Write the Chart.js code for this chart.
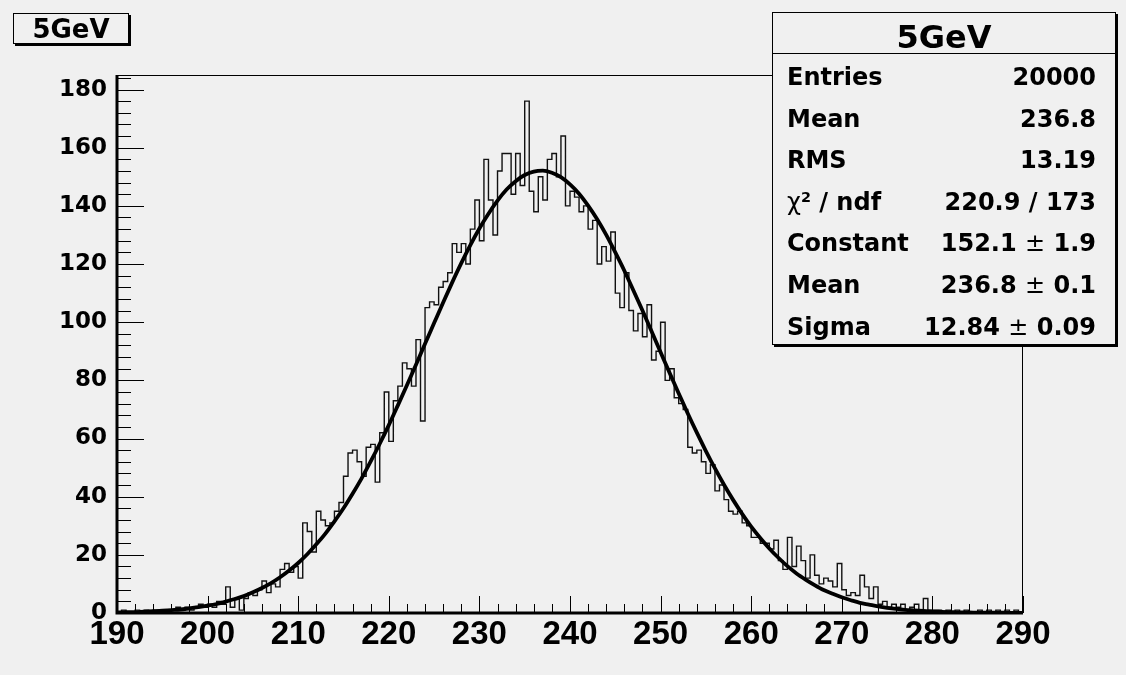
<!DOCTYPE html>
<html><head><meta charset="utf-8">
<script src="https://cdn.jsdelivr.net/npm/chart.js@4.4.0/dist/chart.umd.min.js"></script>
<style>
html,body{margin:0;padding:0;background:#f0f0f0;}
#wrap{position:relative;width:1126px;height:675px;overflow:hidden;background:#f0f0f0;}
#c{position:absolute;left:0;top:0;}
.box{position:absolute;background:#f0f0f0;border:1px solid #000;box-shadow:2px 2px 0 #000;font-family:"DejaVu Sans",sans-serif;font-weight:bold;color:#000;box-sizing:content-box;}
#tbox{left:13px;top:13px;width:114px;height:29px;line-height:30px;font-size:26px;text-align:center;}
#stats{left:772px;top:12px;width:342px;height:331px;}
#stats .ttl{position:absolute;left:0;right:0;top:0;height:48px;line-height:48px;font-size:32px;text-align:center;}
#stats .sep{position:absolute;left:0;right:0;top:40px;height:1px;background:#000;}
#stats .row{position:absolute;left:14px;right:19px;height:41.6px;line-height:41.6px;font-size:24px;display:flex;justify-content:space-between;white-space:nowrap;}
.nb{font-weight:normal;}
sup{font-size:0.6em;vertical-align:0.55em;line-height:0;}
</style>
</head><body>
<div id="wrap">
<canvas id="c" width="1126" height="675"></canvas>
<div id="tbox" class="box"></div>
<div id="stats" class="box"><div class="ttl"></div><div class="sep"></div></div>
</div>
<script>
const histTitle = "5GeV";
const xMin = 190, xMax = 290, binWidth = 0.5;
const counts = [
 0,1,0,0,1,0,1,0,1,1,
 0,1,1,2,1,2,1,2,3,2,
 3,2,4,3,9,2,5,1,5,7,
 6,8,11,7,10,9,15,17,14,16,
 12,31,28,21,35,32,30,31,35,38,
 47,55,56,52,47,57,58,45,62,76,
 59,73,78,86,84,78,94,66,105,107,
 106,112,114,117,127,124,127,120,132,142,
 128,156,142,130,152,158,158,144,158,147,
 176,145,138,150,142,156,158,150,164,140,
 145,143,138,140,132,135,120,126,121,131,
 110,105,117,104,97,103,95,106,87,90,
 100,80,84,74,72,70,57,55,56,52,
 48,51,42,44,39,35,34,35,31,30,
 26,26,24,24,22,25,18,15,26,16,
 23,18,12,20,13,10,12,11,9,17,
 8,6,7,6,13,9,5,9,3,4,
 2,3,2,3,1,2,3,1,5,1,
 1,1,0,1,0,1,0,1,0,0,
 1,0,1,0,1,0,1,0,1,0
];
const fitValues = [
 0.2,0.3,0.3,0.5,0.6,0.8,1.0,1.2,1.6,2.0,
 2.5,3.1,3.9,4.8,5.8,7.1,8.6,10.3,12.3,14.6,
 17.2,20.2,23.6,27.3,31.5,36.0,41.0,46.3,52.1,58.2,
 64.6,71.4,78.3,85.4,92.6,99.7,106.8,113.7,120.3,126.5,
 132.2,137.3,141.8,145.6,148.5,150.6,151.8,152.1,151.4,149.9,
 147.4,144.2,140.1,135.4,130.0,124.0,117.7,110.9,104.0,96.9,
 89.7,82.5,75.5,68.6,62.0,55.7,49.7,44.1,38.9,34.1,
 29.7,25.8,22.2,19.0,16.1,13.6,11.5,9.6,7.9,6.6,
 5.4,4.4,3.5,2.9,2.3,1.8,1.4,1.1,0.9,0.7,
 0.5,0.4,0.3,0.2,0.2,0.1,0.1,0.1,0.1,0.0,0.0
];
const yMax = 185;
const xTickStep = 10, xMinorStep = 2;
const yTickStep = 20, yMinorStep = 4;
const statLabels = ["Entries","Mean","RMS","<span class='nb'>χ</span><sup>2</sup> / ndf","Constant","Mean","Sigma"];
const statValues = ["20000","236.8","13.19","220.9 / 173","152.1 <span class='nb'>±</span> 1.9","236.8 <span class='nb'>±</span> 0.1","12.84 <span class='nb'>±</span> 0.09"];

document.getElementById('tbox').textContent = histTitle;
const st = document.getElementById('stats');
st.querySelector('.ttl').textContent = histTitle;
statLabels.forEach((lab,k)=>{
  const r = document.createElement('div');
  r.className='row';
  r.style.top = (44 + k*41.6) + 'px';
  r.innerHTML = '<span>'+lab+'</span><span>'+statValues[k]+'</span>';
  st.appendChild(r);
});

const histPts = [{x:xMin, y:0}];
counts.forEach((v,i)=>histPts.push({x:xMin + i*binWidth, y:v}));
histPts.push({x:xMax, y:counts[counts.length-1]});
histPts.push({x:xMax, y:0});
const fitPts = fitValues.map((v,i)=>({x:xMin + i, y:v}));

const frameTicks = {
  id:'frameTicks',
  afterDatasetsDraw(chart){
    const {ctx, chartArea:a, scales:{x,y}} = chart;
    ctx.save();
    ctx.strokeStyle='#000';
    ctx.lineWidth=1;
    ctx.beginPath();
    for (let v=xMin; v<=xMax+1e-9; v+=xMinorStep){
      const px=Math.round(x.getPixelForValue(v))+0.5;
      const len = (Math.abs(v % xTickStep) < 1e-9) ? 17 : 9;
      ctx.moveTo(px,a.bottom); ctx.lineTo(px,a.bottom-len);
    }
    for (let v=0; v<=yMax; v+=yMinorStep){
      const py=Math.round(y.getPixelForValue(v))+0.5;
      const len = (v % yTickStep === 0) ? 27 : 14;
      ctx.moveTo(a.left,py); ctx.lineTo(a.left+len,py);
    }
    ctx.stroke();
    ctx.strokeRect(a.left+0.5, a.top+0.5, a.right-a.left-1, a.bottom-a.top-1);
    ctx.lineWidth=3;
    ctx.beginPath();
    ctx.moveTo(a.left, a.top); ctx.lineTo(a.left, a.bottom); ctx.lineTo(a.right, a.bottom);
    ctx.stroke();
    ctx.restore();
  }
};

new Chart(document.getElementById('c'), {
  type:'line',
  data:{datasets:[
    {label:'fit', data:fitPts, borderColor:'#000', borderWidth:3.8, pointRadius:0, tension:0.4, cubicInterpolationMode:'monotone', fill:false, order:0},
    {label:histTitle, data:histPts, borderColor:'#111', borderWidth:1.4, pointRadius:0, stepped:true, fill:false, order:1}
  ]},
  options:{
    responsive:false, animation:false, devicePixelRatio:1,
    layout:{padding:{left:0, top:75, right:103, bottom:0}},
    plugins:{legend:{display:false}, tooltip:{enabled:false}, title:{display:false}},
    scales:{
      x:{type:'linear', min:xMin, max:xMax,
         border:{display:false}, grid:{display:false, drawTicks:false},
         ticks:{stepSize:xTickStep, maxRotation:0, autoSkip:false, color:'#000', padding:2,
                font:{family:'"Liberation Sans Narrow","Liberation Sans",Arial,sans-serif', size:33, weight:'bold'}},
         afterFit(s){ s.height = 62; }},
      y:{type:'linear', min:0, max:yMax,
         border:{display:false}, grid:{display:false, drawTicks:false},
         ticks:{stepSize:yTickStep, includeBounds:false, color:'#000', padding:10,
                font:{family:'"DejaVu Sans",sans-serif', size:23, weight:'bold'}},
         afterFit(s){ s.width = 117; }}
    }
  },
  plugins:[frameTicks]
});
</script>
</body></html>
